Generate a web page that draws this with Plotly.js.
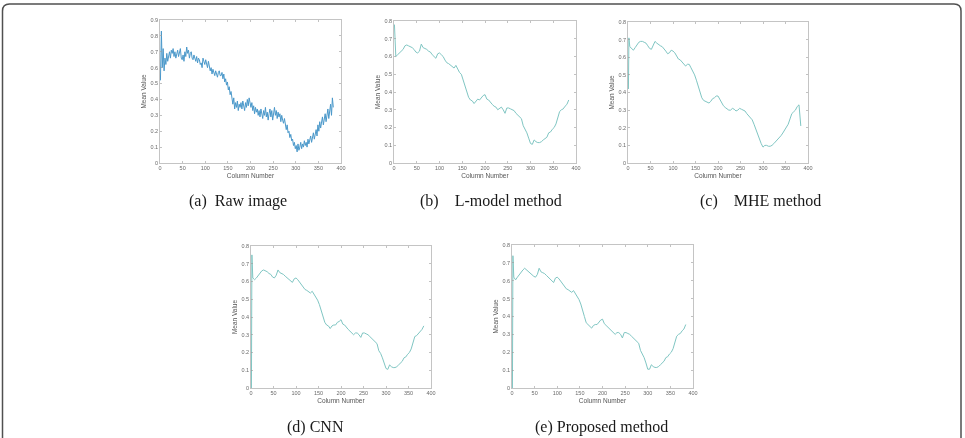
<!DOCTYPE html>
<html>
<head>
<meta charset="utf-8">
<script src="https://cdn.plot.ly/plotly-3.0.1.min.js"></script>
<style>
  html, body { margin: 0; padding: 0; background: #fff; }
  #fig { width: 965px; height: 438px; filter: blur(0.3px); }
</style>
</head>
<body>
<div id="fig"></div>
<script>
// Column-wise mean intensity profiles, one panel per enhancement method.

// (a) raw image: one sample every 2 columns, starting at column 1
const rawStart = 1;
const rawStep = 2;
const rawMean = [
  0.52, 0.83, 0.60, 0.72, 0.58, 0.66, 0.62, 0.69, 0.64, 0.67,
  0.70, 0.66, 0.71, 0.69, 0.72, 0.67, 0.70, 0.66, 0.68, 0.71,
  0.67, 0.70, 0.72, 0.66, 0.65, 0.68, 0.64, 0.70, 0.67, 0.73,
  0.69, 0.71, 0.66, 0.69, 0.70, 0.66, 0.65, 0.68, 0.66, 0.64,
  0.67, 0.63, 0.66, 0.65, 0.62, 0.63, 0.60, 0.66, 0.64, 0.62,
  0.65, 0.63, 0.60, 0.64, 0.61, 0.58, 0.60, 0.56, 0.59, 0.57,
  0.55, 0.58, 0.56, 0.54, 0.57, 0.58, 0.55, 0.55, 0.57, 0.53,
  0.56, 0.51, 0.53, 0.49, 0.51, 0.46, 0.48, 0.43, 0.45, 0.40,
  0.37, 0.41, 0.34, 0.38, 0.35, 0.39, 0.33, 0.37, 0.35, 0.38,
  0.34, 0.39, 0.36, 0.33, 0.38, 0.35, 0.40, 0.36, 0.41, 0.37,
  0.35, 0.38, 0.33, 0.36, 0.31, 0.35, 0.32, 0.34, 0.30, 0.33,
  0.29, 0.34, 0.31, 0.28, 0.33, 0.30, 0.35, 0.29, 0.32, 0.27,
  0.31, 0.34, 0.29, 0.33, 0.27, 0.32, 0.35, 0.30, 0.33, 0.28,
  0.32, 0.29, 0.31, 0.26, 0.30, 0.27, 0.25, 0.28, 0.23, 0.21,
  0.24, 0.19, 0.20, 0.16, 0.18, 0.14, 0.15, 0.11, 0.13, 0.09,
  0.11, 0.07, 0.12, 0.08, 0.10, 0.13, 0.09, 0.12, 0.10, 0.14,
  0.11, 0.13, 0.10, 0.15, 0.12, 0.14, 0.17, 0.13, 0.16, 0.19,
  0.15, 0.18, 0.21, 0.17, 0.24, 0.20, 0.26, 0.22, 0.25, 0.29,
  0.24, 0.28, 0.31, 0.26, 0.30, 0.34, 0.28, 0.33, 0.37, 0.30,
  0.41, 0.35
];

// Columns sampled for the enhanced profiles
const cols = [
  1, 2, 4, 8, 12, 16, 20, 24, 28, 32, 36, 40, 44, 48, 52, 56, 60, 64, 68, 72,
  76, 80, 84, 88, 92, 96, 100, 104, 108, 112, 116, 120, 124, 128, 132, 136, 140, 144, 148, 152,
  156, 160, 164, 168, 172, 176, 180, 184, 188, 192, 196, 200, 204, 208, 212, 216, 220, 224, 228, 232,
  236, 240, 244, 248, 252, 256, 260, 264, 268, 272, 276, 280, 284, 288, 292, 296, 300, 304, 308, 312,
  316, 320, 324, 328, 332, 336, 340, 344, 348, 352, 356, 360, 364, 368, 372, 376, 380, 384
];

// (b) L-model method
const lModel = [
  0.78, 0.70, 0.60, 0.61, 0.62, 0.63, 0.64, 0.66, 0.665, 0.66, 0.655, 0.65, 0.64, 0.625, 0.62, 0.63, 0.67, 0.65, 0.645, 0.64,
  0.63, 0.625, 0.61, 0.60, 0.59, 0.615, 0.62, 0.61, 0.60, 0.58, 0.565, 0.56, 0.55, 0.54, 0.535, 0.55, 0.53, 0.51, 0.50, 0.47,
  0.44, 0.40, 0.37, 0.355, 0.35, 0.335, 0.35, 0.36, 0.355, 0.37, 0.38, 0.385, 0.36, 0.355, 0.34, 0.33, 0.32, 0.315, 0.30, 0.31,
  0.315, 0.30, 0.28, 0.31, 0.31, 0.305, 0.30, 0.295, 0.28, 0.27, 0.265, 0.25, 0.21, 0.19, 0.17, 0.14, 0.11, 0.105, 0.13, 0.12,
  0.115, 0.115, 0.12, 0.13, 0.14, 0.145, 0.17, 0.175, 0.19, 0.20, 0.22, 0.26, 0.29, 0.30, 0.305, 0.32, 0.33, 0.355
];

// (c) MHE method
const mhe = [
  0.42, 0.71, 0.66, 0.65, 0.64, 0.655, 0.67, 0.685, 0.69, 0.69, 0.685, 0.68, 0.665, 0.65, 0.645, 0.665, 0.69, 0.68, 0.67, 0.665,
  0.66, 0.65, 0.635, 0.62, 0.625, 0.64, 0.635, 0.625, 0.61, 0.59, 0.585, 0.575, 0.56, 0.55, 0.56, 0.56, 0.54, 0.52, 0.50, 0.47,
  0.44, 0.40, 0.37, 0.355, 0.35, 0.345, 0.34, 0.35, 0.365, 0.37, 0.38, 0.38, 0.36, 0.34, 0.325, 0.315, 0.305, 0.30, 0.30, 0.31,
  0.305, 0.295, 0.30, 0.31, 0.305, 0.30, 0.295, 0.28, 0.27, 0.26, 0.245, 0.22, 0.19, 0.16, 0.14, 0.11, 0.09, 0.10, 0.10, 0.095,
  0.095, 0.10, 0.11, 0.12, 0.13, 0.145, 0.155, 0.17, 0.185, 0.20, 0.22, 0.25, 0.28, 0.29, 0.30, 0.32, 0.33, 0.21
];

// (d) CNN
const cnn = [
  0.00, 0.75, 0.62, 0.61, 0.62, 0.635, 0.645, 0.66, 0.665, 0.66, 0.655, 0.645, 0.64, 0.625, 0.62, 0.635, 0.665, 0.65, 0.645, 0.64,
  0.63, 0.62, 0.61, 0.60, 0.595, 0.615, 0.62, 0.61, 0.595, 0.58, 0.565, 0.555, 0.55, 0.54, 0.535, 0.545, 0.53, 0.51, 0.495, 0.47,
  0.44, 0.40, 0.37, 0.355, 0.35, 0.335, 0.35, 0.355, 0.355, 0.37, 0.375, 0.385, 0.36, 0.355, 0.34, 0.33, 0.32, 0.31, 0.30, 0.31,
  0.31, 0.30, 0.285, 0.31, 0.31, 0.305, 0.30, 0.29, 0.28, 0.27, 0.265, 0.25, 0.21, 0.195, 0.17, 0.14, 0.11, 0.105, 0.13, 0.12,
  0.115, 0.115, 0.12, 0.13, 0.14, 0.15, 0.17, 0.175, 0.19, 0.20, 0.22, 0.26, 0.29, 0.295, 0.305, 0.32, 0.33, 0.35
];

// (e) Proposed method
const proposed = [
  0.00, 0.74, 0.62, 0.605, 0.62, 0.635, 0.645, 0.66, 0.67, 0.66, 0.655, 0.645, 0.635, 0.625, 0.62, 0.635, 0.67, 0.65, 0.645, 0.64,
  0.63, 0.62, 0.61, 0.595, 0.59, 0.615, 0.62, 0.61, 0.595, 0.58, 0.565, 0.555, 0.55, 0.54, 0.535, 0.545, 0.53, 0.51, 0.495, 0.47,
  0.44, 0.40, 0.365, 0.355, 0.35, 0.335, 0.35, 0.355, 0.355, 0.37, 0.38, 0.385, 0.36, 0.35, 0.34, 0.33, 0.32, 0.31, 0.30, 0.31,
  0.31, 0.30, 0.28, 0.31, 0.31, 0.305, 0.30, 0.29, 0.28, 0.27, 0.265, 0.25, 0.21, 0.19, 0.17, 0.14, 0.105, 0.105, 0.13, 0.12,
  0.115, 0.115, 0.12, 0.13, 0.14, 0.15, 0.17, 0.175, 0.19, 0.20, 0.22, 0.26, 0.29, 0.30, 0.305, 0.32, 0.33, 0.355
];

const captions = [
  '(a)\u00a0\u00a0Raw image',
  '(b)\u00a0\u00a0\u00a0\u00a0L-model method',
  '(c)\u00a0\u00a0\u00a0\u00a0MHE method',
  '(d) CNN',
  '(e) Proposed method'
];

const xTitle = 'Column Number';
const yTitle = 'Mean Value';

// ---- layout geometry (pixels) ----
const W = 965, H = 438;
const px = v => v / W;
const py = v => 1 - v / H;

// [left, right, top, bottom, yMax] for each panel's plotting box
const boxes = [
  [160, 341, 20, 163, 0.9],
  [394, 576, 21, 163, 0.8],
  [628, 808, 22, 163, 0.8],
  [251, 431, 246, 388, 0.8],
  [512, 693, 245, 388, 0.8]
];
// caption centres
const capPos = [[238, 201], [491, 201], [760, 201], [315, 427], [601, 427]];

const rawColor = '#4a98ca';
const smoothColor = '#80c6c3';

const traces = [];
traces.push({
  type: 'scatter', mode: 'lines', x0: rawStart, dx: rawStep, y: rawMean,
  xaxis: 'x', yaxis: 'y', line: { color: rawColor, width: 1 }, hoverinfo: 'skip'
});
[lModel, mhe, cnn, proposed].forEach((ys, i) => {
  const n = i + 2;
  traces.push({
    type: 'scatter', mode: 'lines', x: cols, y: ys,
    xaxis: 'x' + n, yaxis: 'y' + n, line: { color: smoothColor, width: 1 }, hoverinfo: 'skip'
  });
});

const tickFont = { family: 'Liberation Sans, Arial, sans-serif', size: 5.5, color: '#6a6a6a' };
const titleFont = { family: 'Liberation Sans, Arial, sans-serif', size: 6.5, color: '#555' };

const layout = {
  width: W, height: H,
  margin: { l: 0, r: 0, t: 0, b: 0 },
  paper_bgcolor: '#fff', plot_bgcolor: '#fff',
  showlegend: false,
  annotations: [],
  shapes: []
};

boxes.forEach((b, i) => {
  const n = i + 1;
  const sx = n === 1 ? '' : String(n);
  layout['xaxis' + sx] = {
    domain: [px(b[0]), px(b[1])], anchor: 'y' + sx,
    range: [0, 400], tick0: 0, dtick: 50,
    ticks: 'inside', ticklen: 2, tickwidth: 0.6, tickcolor: '#9a9a9a',
    showline: true, linecolor: '#b5b5b5', linewidth: 0.8, mirror: 'ticks',
    showgrid: false, zeroline: false, tickfont: tickFont,
    title: { text: xTitle, font: titleFont, standoff: 2 }
  };
  layout['yaxis' + sx] = {
    domain: [py(b[3]), py(b[2])], anchor: 'x' + sx,
    range: [0, b[4]], tick0: 0, dtick: 0.1,
    ticks: 'inside', ticklen: 2, tickwidth: 0.6, tickcolor: '#9a9a9a',
    showline: true, linecolor: '#b5b5b5', linewidth: 0.8, mirror: 'ticks',
    showgrid: false, zeroline: false, tickfont: tickFont,
    title: { text: yTitle, font: titleFont, standoff: 3 }
  };
  layout.annotations.push({
    xref: 'paper', yref: 'paper', x: px(capPos[i][0]), y: py(capPos[i][1]),
    xanchor: 'center', yanchor: 'middle', showarrow: false,
    text: captions[i],
    font: { family: 'Liberation Serif, Times New Roman, serif', size: 16, color: '#1a1a1a' }
  });
});

// rounded outer frame, open at the bottom
(function () {
  const L = 2.5, R = 961, T = 4, B = 450, r = 7;
  const P = (x, y) => px(x) + ',' + py(y);
  layout.shapes.push({
    type: 'path', xref: 'paper', yref: 'paper',
    path: 'M' + P(L, B) + ' L' + P(L, T + r) + ' Q' + P(L, T) + ' ' + P(L + r, T) +
          ' L' + P(R - r, T) + ' Q' + P(R, T) + ' ' + P(R, T + r) + ' L' + P(R, B),
    line: { color: '#505050', width: 1.5 }
  });
})();

Plotly.newPlot('fig', traces, layout, { staticPlot: true, displayModeBar: false });
</script>
</body>
</html>
